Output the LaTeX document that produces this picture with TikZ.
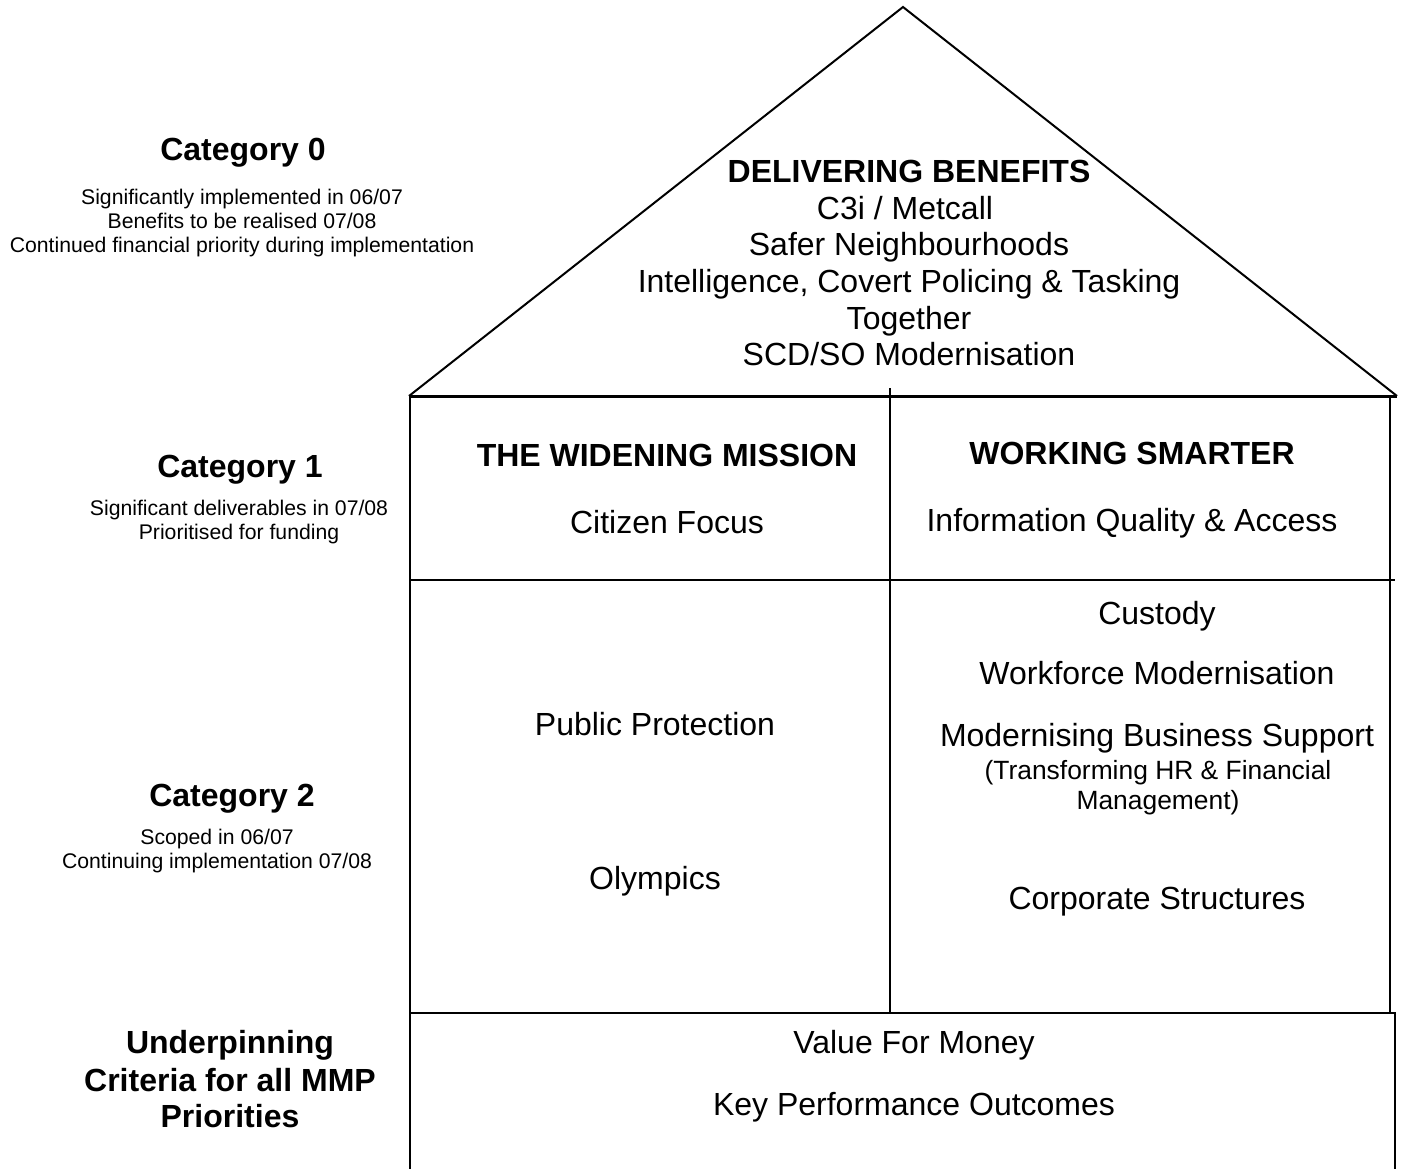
\documentclass[tikz,border=0pt]{standalone}
\usepackage{fontspec}
\setmainfont{Liberation Sans}
\begin{document}
\begin{tikzpicture}[x=0.5pt,y=-0.5pt,
  wall/.style={line width=1pt,black},
  beam/.style={line width=1.5pt,black},
  big/.style={anchor=base,inner sep=0pt,font=\fontsize{16}{19}\selectfont},
  bigb/.style={anchor=base,inner sep=0pt,font=\fontsize{16}{19}\selectfont\bfseries},
  note/.style={anchor=base,inner sep=0pt,font=\fontsize{10.6}{12}\selectfont},
  sub/.style={anchor=base,inner sep=0pt,font=\fontsize{13.2}{15}\selectfont}]
\useasboundingbox (0,0) rectangle (1402,1169);
% house outline
\coordinate (apex) at (903,7);
\coordinate (eaveL) at (409,396);
\coordinate (eaveR) at (1397,396);
\draw[wall] (eaveL) -- (apex) -- (eaveR);
\draw[beam] (eaveL) -- (eaveR);
\draw[wall] (410,396) -- (410,1169);
\draw[wall] (1390,396) -- (1390,1013);
\draw[wall] (890,388) -- (890,1013);
\draw[wall] (410,580) -- (1395,580);
\draw[wall] (410,1013) -- (1395,1013) -- (1395,1169);
% roof text
\node[bigb] (r0) at (909,182) {DELIVERING BENEFITS};
\node[big] (r1) at (905,219) {C3i / Metcall};
\node[big] (r2) at (909,255) {Safer Neighbourhoods};
\node[big] (r3) at (909,292) {Intelligence, Covert Policing \& Tasking};
\node[big] (r4) at (909,329) {Together};
\node[big] (r5) at (909,365) {SCD/SO Modernisation};
% left labels
\node[bigb] (c0) at (243,160) {Category 0};
\node[note] (c0a) at (242,204) {Significantly implemented in 06/07};
\node[note] (c0b) at (242,228) {Benefits to be realised 07/08};
\node[note] (c0c) at (242,252) {Continued financial priority during implementation};
\node[bigb] (c1) at (240,477) {Category 1};
\node[note] (c1a) at (239,515) {Significant deliverables in 07/08};
\node[note] (c1b) at (239,539) {Prioritised for funding};
\node[bigb] (c2) at (232,806) {Category 2};
\node[note] (c2a) at (217,844) {Scoped in 06/07};
\node[note] (c2b) at (217,868) {Continuing implementation 07/08};
\node[bigb] (u0) at (230,1053) {Underpinning};
\node[bigb] (u1) at (230,1091) {Criteria for all MMP};
\node[bigb] (u2) at (230,1127) {Priorities};
% category 1 cells
\node[bigb] (m1) at (667,466) {THE WIDENING MISSION};
\node[big] (m2) at (667,533) {Citizen Focus};
\node[bigb] (m3) at (1132,464) {WORKING SMARTER};
\node[big] (m4) at (1132,531) {Information Quality \& Access};
% category 2 cells
\node[big] (p1) at (655,735) {Public Protection};
\node[big] (p2) at (655,889) {Olympics};
\node[big] (s1) at (1157,624) {Custody};
\node[big] (s2) at (1157,684) {Workforce Modernisation};
\node[big] (s3) at (1157,746) {Modernising Business Support};
\node[sub] (s4) at (1158,779) {(Transforming HR \& Financial};
\node[sub] (s5) at (1158,809) {Management)};
\node[big] (s6) at (1157,909) {Corporate Structures};
% underpinning
\node[big] (v1) at (914,1053) {Value For Money};
\node[big] (v2) at (914,1115) {Key Performance Outcomes};
\end{tikzpicture}
\end{document}
